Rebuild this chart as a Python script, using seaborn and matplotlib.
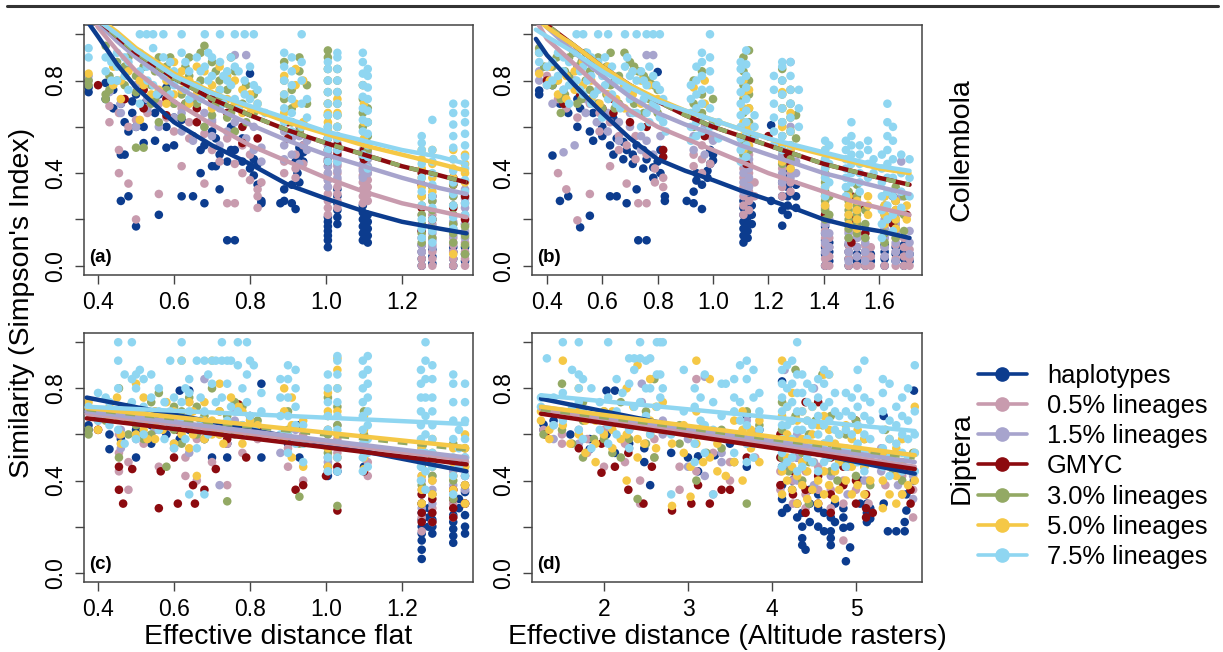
import matplotlib
matplotlib.use("Agg")
import matplotlib.pyplot as plt
from matplotlib.lines import Line2D
import seaborn as sns
import pandas as pd

# ---------------- series ----------------
SERIES = ["haplotypes", "0.5% lineages", "1.5% lineages", "GMYC",
          "3.0% lineages", "5.0% lineages", "7.5% lineages"]
COLORS = ["#0c3c8e", "#c89bae", "#a7a4cd", "#8c0a0f", "#93a964", "#f5c846", "#8fd6f1"]

# ---------------- panel (a): Collembola, flat distance ----------------
A_HAP = {0.375: [.75, .77], 0.42: [.79, .72], 0.44: [.76, .68], 0.46: [.28, .48, .70], 0.47: [.48, .62],
         0.48: [.30, .58], 0.49: [.71, .66], 0.50: [.17, .60, .74], 0.52: [.53, .60, .70], 0.55: [.54, .66],
         0.56: [.74, .22], 0.58: [.77, .51, .60], 0.60: [.52, .64], 0.62: [.30, .63], 0.65: [.30, .56],
         0.67: [.40, .50], 0.68: [.27, .52], 0.70: [.58, .43], 0.71: [.43, .55], 0.72: [.33, .48],
         0.74: [.11, .45], 0.75: [.60, .50], 0.76: [.11, .50], 0.78: [.55, .45], 0.80: [.83, .42],
         0.81: [.46, .39], 0.82: [.44, .35], 0.83: [.27, .28], 0.88: [.27], 0.89: [.33, .28],
         0.91: [.27, .35], 0.92: [.245, .45], 0.925: [.43, .40], 0.93: [.51, .47, .36], 0.94: [.49, .45, .52],
         1.005: [.08, .11, .13, .15, .17, .19, .21], 1.03: [.18, .21, .24, .27, .30, .33],
         1.097: [.11, .14, .17, .20, .23, .26], 1.11: [.10, .13, .16, .19, .22],
         1.252: [.0, .03, .06, .09], 1.28: [.01, .04, .07], 1.335: [.0, .03, .06, .08], 1.366: [.02, .05, .08]}
A_L05 = {0.43: [.69, .62], 0.455: [.40, .50, .66], 0.48: [.355, .60], 0.50: [.20, .63], 0.53: [.66, .72],
         0.56: [.31, .70], 0.58: [.72, .64], 0.60: [.58], 0.62: [.43, .68], 0.64: [.62, .55], 0.68: [.355, .57],
         0.70: [.50, .62], 0.72: [.45], 0.74: [.27, .55], 0.76: [.27, .44], 0.78: [.40, .52], 0.80: [.37, .48],
         0.82: [.33, .30, .25], 0.83: [.36], 0.89: [.45, .40], 0.92: [.42, .38, .48], 0.94: [.52, .44],
         1.005: [.22, .25, .28, .31, .34, .37, .40, .43, .46], 1.03: [.25, .28, .31, .34, .37, .40, .43, .46, .49],
         1.097: [.27, .30, .33, .36, .39, .42], 1.11: [.28, .31, .34, .37, .40],
         1.252: [.0, .03, .06, .09, .12, .15], 1.28: [.0, .03, .06, .09, .12, .18, .22],
         1.335: [.0, .03, .06, .09, .12, .15, .18], 1.366: [.0, .03, .06, .10, .14, .18, .22, .27]}
A_L15 = {0.375: [.80, .82], 0.43: [.75], 0.46: [.70, .66], 0.50: [.78, .60], 0.53: [.72, .68], 0.56: [.60, .75],
         0.60: [.70, .64], 0.62: [.58, .66], 0.65: [.72, .54], 0.68: [.60, .66], 0.70: [.63, .56], 0.72: [.68, .52],
         0.74: [.58], 0.76: [.91, .62], 0.79: [.91, .55], 0.81: [.60, .50], 0.83: [.51, .45],
         0.89: [.52, .58, .46], 0.91: [.55, .62, .48], 0.93: [.44, .56, .60], 0.95: [.50, .54],
         1.005: [.34, .37, .40, .43, .46, .49, .52], 1.03: [.38, .41, .44, .47, .50, .53, .56],
         1.097: [.38, .41, .44, .47, .50, .53], 1.11: [.40, .43, .46, .49],
         1.252: [.06, .09, .12, .15, .18, .22], 1.28: [.08, .11, .14, .17, .20, .24, .28],
         1.335: [.10, .13, .16, .19, .22, .26, .30], 1.366: [.12, .15, .18, .21, .25, .29, .33]}
A_GMYC = {0.40: [.78], 0.47: [.72], 0.52: [.68, .76], 0.58: [.65, .72], 0.63: [.70], 0.66: [.68, .62],
          0.70: [.72], 0.74: [.66], 0.78: [.60, .53], 0.82: [.55], 0.90: [.55, .62], 0.93: [.58],
          1.005: [.45, .50, .55], 1.03: [.48, .52], 1.10: [.46, .50], 1.252: [.15, .25, .35, .40],
          1.28: [.20, .30], 1.335: [.25, .35, .38], 1.366: [.20, .30]}
A_L30 = {0.375: [.78, .80], 0.42: [.95, .74, .72], 0.43: [.82, .76], 0.45: [.88, .80], 0.47: [.86, .78],
         0.48: [.90, .85], 0.50: [.51, .82, .75], 0.52: [.51, .86], 0.54: [.78, .70], 0.55: [.84, .72],
         0.56: [.62, .90, .84], 0.58: [.86, .76], 0.59: [.90, .80], 0.60: [.70, .80], 0.62: [.64, .74],
         0.63: [.86, .70], 0.64: [.90, .82], 0.66: [.78, .70], 0.67: [.92, .80], 0.68: [.95, .60],
         0.70: [.88, .65], 0.71: [.84, .70], 0.72: [.80, .72], 0.74: [.64, .76], 0.75: [.90, .66],
         0.76: [.84, .58], 0.78: [.70], 0.79: [.78, .62], 0.81: [.66, .74],
         0.89: [.72, .80, .88], 0.91: [.62, .68, .76], 0.93: [.84, .90, .58], 0.95: [.70, .78],
         1.005: [.55, .60, .65, .70, .75, .80, .85, .90, .93], 1.03: [.55, .60, .65, .70, .75, .80, .85],
         1.097: [.48, .54, .60, .66, .72, .78], 1.11: [.50, .56, .62, .68],
         1.252: [.10, .14, .18, .22, .26, .30], 1.28: [.12, .16, .20, .24, .28, .34],
         1.335: [.10, .14, .18, .22, .26, .30, .35], 1.366: [.05, .09, .13, .17]}
A_L50 = {0.375: [.83], 0.44: [.86, .78], 0.46: [.80, .72], 0.48: [.84], 0.51: [.63, .80], 0.52: [.90, .78],
         0.54: [.88, .74], 0.56: [.84, .76], 0.58: [.80, .70], 0.60: [.88, .74], 0.62: [.84, .76],
         0.64: [.80, .70], 0.66: [.74, .86], 0.68: [.84, .74], 0.70: [.78, .68], 0.72: [.76, .86],
         0.74: [.82, .72], 0.76: [.80, .70], 0.78: [.76, .66], 0.80: [.74, .66], 0.82: [.70],
         0.89: [.66, .74, .82], 0.92: [.70, .78, .85], 0.94: [.62, .80], 1.005: [.58, .62, .66, .70],
         1.03: [.60, .66, .72], 1.10: [.55, .62, .70], 1.252: [.30, .34, .38, .42, .46, .50],
         1.28: [.32, .38, .44, .50], 1.335: [.05, .38, .42, .46, .50], 1.366: [.36, .40, .44, .48]}
A_L75 = {0.375: [.94, .90], 0.42: [.84, .90], 0.435: [.88, .80], 0.45: [.92, .80, .86], 0.47: [.82, .90],
         0.48: [.88, .76], 0.51: [1.0, .92, .84, .70], 0.528: [1.0, .86], 0.53: [.80, .88],
         0.545: [1.0, .94, .78], 0.555: [.86, .74], 0.572: [1.0, .90, .82], 0.59: [.88, .74], 0.60: [.84, .78],
         0.62: [1.0, .92, .80], 0.63: [.88, .76], 0.64: [.84, .72], 0.66: [.90, .78], 0.67: [.84, .72],
         0.681: [1.0, .86, .74], 0.69: [.80, .92], 0.70: [.82, .90], 0.721: [1.0, .88, .76], 0.73: [.82, .70],
         0.74: [.84, .80], 0.75: [.78, .90], 0.76: [1.0, .86, .72], 0.77: [.84, .68], 0.786: [1.0, .80, .74],
         0.80: [.86, .72], 0.81: [1.0, .78], 0.82: [.76, .70], 0.84: [.66],
         0.89: [.62, .68, .74, .80, .86, .92], 0.91: [.58, .66, .72, .78, .84, .90],
         0.936: [1.0, .60, .70, .80, .88], 0.95: [.64, .72],
         1.005: [.45, .50, .55, .60, .65, .70, .75, .80, .85, .88],
         1.03: [.45, .50, .55, .60, .65, .70, .75, .80, .85, .90, .92],
         1.097: [.48, .53, .58, .63, .68, .73, .78, .83, .88, .92],
         1.11: [.42, .47, .52, .57, .62, .67, .72, .77, .82, .85],
         1.252: [.12, .16, .20, .26, .32, .38, .44, .50, .53, .56],
         1.28: [.10, .15, .20, .25, .30, .35, .40, .45, .50, .63],
         1.335: [.16, .21, .26, .31, .36, .41, .46, .51, .56, .61, .66, .70],
         1.366: [.22, .27, .32, .37, .42, .47, .52, .57, .62, .66, .70]}

A_FIT_X = [0.37, 0.40, 0.45, 0.50, 0.60, 0.70, 0.80, 0.90, 1.00, 1.10, 1.20, 1.30, 1.37]
A_FIT = {
    "haplotypes":    [1.06, 0.99, 0.87, 0.77, 0.62, 0.52, 0.44, 0.35, 0.29, 0.235, 0.19, 0.16, 0.14],
    "0.5% lineages": [1.12, 1.03, 0.93, 0.84, 0.71, 0.61, 0.52, 0.45, 0.38, 0.32, 0.27, 0.235, 0.21],
    "1.5% lineages": [1.15, 1.05, 0.97, 0.90, 0.78, 0.69, 0.61, 0.54, 0.48, 0.43, 0.38, 0.335, 0.31],
    "GMYC":          [1.17, 1.06, 0.99, 0.92, 0.81, 0.72, 0.65, 0.585, 0.53, 0.48, 0.43, 0.39, 0.36],
    "3.0% lineages": [1.17, 1.06, 0.99, 0.92, 0.81, 0.72, 0.65, 0.585, 0.53, 0.48, 0.43, 0.39, 0.36],
    "5.0% lineages": [1.18, 1.07, 1.01, 0.94, 0.83, 0.75, 0.68, 0.62, 0.57, 0.52, 0.48, 0.44, 0.41],
    "7.5% lineages": [1.16, 1.06, 1.00, 0.93, 0.82, 0.745, 0.69, 0.635, 0.58, 0.54, 0.50, 0.47, 0.44],
}

# ---------------- panel (b): Collembola, altitude distance ----------------
B_HAP = {0.372: [.757, .74], 0.42: [.476, .78], 0.447: [.28, .70], 0.477: [.30, .66], 0.51: [.60, .72],
         0.52: [.166, .68], 0.555: [.216, .58], 0.567: [.54, .66], 0.60: [.56, .60], 0.628: [.30, .52],
         0.64: [.636, .48], 0.652: [.30, .55], 0.676: [.535, .46], 0.688: [.27, .50], 0.71: [.48, .44],
         0.724: [.33, .52], 0.73: [.11], 0.748: [.50, .42], 0.76: [.11, .46], 0.784: [.425, .38],
         0.80: [.837, .45], 0.81: [.50, .40], 0.826: [.28, .30], 0.905: [.28], 0.93: [.27, .32],
         0.94: [.368, .40], 0.96: [.245, .35], 0.98: [.41, .38], 0.99: [.50, .44], 1.0: [.455, .48],
         1.11: [.10, .13, .16, .19, .22, .25, .28], 1.125: [.12, .15, .18, .21, .24, .27, .30],
         1.14: [.18, .22, .26], 1.21: [.607, .28], 1.25: [.173, .24, .30, .36],
         1.27: [.22, .26, .30, .34, .38, .42], 1.30: [.25, .30, .35],
         1.405: [.0, .05, .08, .11, .14, .17, .20], 1.42: [.02, .06, .10], 1.49: [.0, .03, .06, .09],
         1.52: [.02, .05, .08], 1.55: [.0, .03, .06], 1.57: [.02, .05], 1.62: [.0, .03, .06, .09],
         1.66: [.02, .05, .08], 1.69: [.0, .03, .06, .09], 1.71: [.02, .05]}
B_L05 = {0.40: [.82, .78], 0.44: [.40, .72], 0.47: [.33, .68], 0.51: [.196, .64], 0.555: [.31, .70],
         0.59: [.66, .58], 0.628: [.43, .62], 0.66: [.56, .50], 0.688: [.355, .52], 0.72: [.46, .56],
         0.73: [.27], 0.76: [.27, .48], 0.79: [.42, .36], 0.82: [.38, .34], 0.93: [.43, .48],
         0.96: [.52, .46, .40], 0.99: [.44, .56], 1.11: [.22, .26, .30, .34, .38, .42, .46],
         1.13: [.24, .28, .32, .36, .40, .44, .48], 1.15: [.30, .36], 1.25: [.30, .34, .38, .42, .46],
         1.28: [.32, .36, .40, .44, .48], 1.405: [.0, .03, .06, .09, .12, .15, .18, .22, .25],
         1.42: [.0, .04, .08, .12], 1.49: [.0, .03, .06, .09, .12, .15], 1.52: [.0, .04, .08, .12],
         1.55: [.0, .03, .06, .09, .12], 1.57: [.0, .04, .08], 1.62: [.0, .04, .08, .12, .16],
         1.66: [.0, .03, .06, .09, .12, .15, .18], 1.69: [.0, .04, .08, .12], 1.71: [.0, .03, .07]}
B_L15 = {0.372: [.80, .84], 0.42: [.70], 0.46: [.49, .76], 0.50: [.52, .80], 0.54: [.72, .66], 0.58: [.62, .70],
         0.62: [.66, .58], 0.66: [.62, .54], 0.70: [.60, .66], 0.74: [.56, .50], 0.76: [.91, .54],
         0.784: [.91, .48], 0.81: [.56], 0.93: [.50, .56], 0.97: [.48, .60], 1.0: [.54],
         1.11: [.32, .36, .40, .44, .48, .52], 1.13: [.34, .38, .42, .46, .50, .54],
         1.25: [.36, .40, .44, .48, .52], 1.28: [.38, .42, .46, .50, .60, .88], 1.30: [.40, .45],
         1.405: [.06, .10, .14, .18, .22, .26, .30], 1.42: [.08, .14, .20], 1.49: [.02, .06, .10, .14, .18, .22],
         1.52: [.04, .08, .12, .16, .20, .25], 1.55: [.02, .06, .10, .14], 1.62: [.04, .08, .12, .16, .20, .25],
         1.66: [.02, .06, .10, .14, .18, .22, .28], 1.68: [.45, .30], 1.71: [.05, .10, .15]}
B_GMYC = {0.40: [.80], 0.46: [.70], 0.52: [.74], 0.60: [.68], 0.64: [.66, .72], 0.70: [.62], 0.76: [.60],
          0.82: [.47, .50], 0.97: [.56], 1.12: [.44, .50], 1.20: [.56], 1.27: [.45, .48], 1.405: [.22],
          1.50: [.10, .20, .30], 1.55: [.14, .25], 1.65: [.18, .30], 1.70: [.22]}
B_L30 = {0.372: [.94, .92], 0.39: [.86], 0.42: [.86, .78], 0.435: [.90, .80], 0.45: [.72, .66],
         0.465: [.84, .74], 0.48: [.90, .82], 0.495: [.92, .78], 0.51: [.86, .70], 0.525: [.88, .72],
         0.54: [.92, .80], 0.555: [.84, .76], 0.57: [.88, .74], 0.585: [.90, .70], 0.60: [.84, .68],
         0.615: [.86, .74], 0.63: [.92, .78], 0.645: [.80, .68], 0.66: [.82, .70], 0.68: [.92, .78],
         0.70: [.88, .76], 0.715: [.86, .70], 0.73: [.84], 0.75: [.82, .66], 0.77: [.80, .72],
         0.785: [.78, .70], 0.80: [.76, .66], 0.93: [.60, .70, .80],
         0.96: [.66, .74, .84], 1.0: [.62, .72], 1.11: [.48, .54, .60, .66, .72, .78, .84, .90],
         1.13: [.50, .56, .62, .68, .74, .80, .93], 1.25: [.44, .50, .56, .62, .68, .74, .80, .85],
         1.28: [.46, .52, .58, .64, .70, .76], 1.30: [.55, .65], 1.405: [.20, .24, .28, .32, .36, .40],
         1.42: [.22, .30], 1.49: [.12, .16, .20, .24, .28, .32], 1.52: [.14, .18, .22, .26, .30, .35],
         1.55: [.12, .18, .24], 1.62: [.10, .14, .18, .22, .26, .30], 1.66: [.12, .16, .20, .24, .28, .34],
         1.69: [.15, .22, .30]}
B_L50 = {0.372: [.83], 0.41: [.86, .80], 0.44: [.80, .74], 0.47: [.82, .72], 0.50: [.84, .76],
         0.53: [.88, .78], 0.56: [.80, .72], 0.59: [.84, .70], 0.62: [.86, .74], 0.65: [.80, .72],
         0.68: [.78, .68], 0.71: [.84, .74], 0.74: [.80, .70], 0.77: [.78, .68], 0.80: [.72],
         0.93: [.77, .66], 0.97: [.80, .70], 1.11: [.50, .56, .62, .68, .74, .80],
         1.13: [.52, .60, .68, .76], 1.25: [.45, .52, .60, .68, .75], 1.28: [.42, .50, .58, .66],
         1.405: [.26, .30, .34, .38, .42, .46, .50], 1.49: [.18, .22, .26, .30], 1.52: [.16, .20, .24, .28],
         1.56: [.22, .26, .30], 1.62: [.18, .22, .26, .30], 1.66: [.16, .20, .24, .28], 1.70: [.20, .26]}
B_L75 = {0.372: [.92, .88], 0.40: [.86, .78], 0.42: [.88, .80], 0.44: [.92, .82], 0.46: [.84, .90, .76],
         0.48: [.88, .78, .70], 0.507: [1.0, .92, .80], 0.52: [.84, .76], 0.531: [1.0, .86, .74],
         0.545: [.92, .80], 0.56: [.90, .82, .70], 0.57: [.86, .74], 0.585: [1.0, .88, .76], 0.60: [.82, .64],
         0.61: [.90, .78], 0.621: [1.0, .84, .72], 0.635: [.86, .74], 0.65: [.80, .70], 0.665: [.80, .68],
         0.682: [1.0, .86, .76], 0.69: [.90, .76], 0.70: [.82, .72], 0.71: [.84, .66], 0.724: [1.0, .80, .66],
         0.74: [.84, .60], 0.75: [.80, .72], 0.760: [1.0, .78, .66], 0.77: [.86, .62], 0.784: [1.0, .82, .70],
         0.795: [.78, .68], 0.808: [1.0, .76, .64], 0.82: [.72, .62], 0.83: [.58],
         0.92: [.54, .60, .66, .72, .78], 0.94: [.56, .62, .68, .74, .80, .86],
         0.96: [.58, .64, .70, .76, .82, .88, .92], 0.989: [1.0, .60, .68, .76, .84, .90], 1.02: [.55, .62],
         1.10: [.45, .50, .55, .60, .65, .70, .75, .80, .85, .88],
         1.12: [.47, .52, .57, .62, .67, .72, .77, .82, .87, .93], 1.15: [.55, .60, .65],
         1.22: [.52, .58, .64, .70, .76, .82], 1.25: [.50, .56, .62, .68, .74, .80, .86, .88],
         1.28: [.52, .58, .64, .70, .76, .82, .88], 1.31: [.60, .68, .76],
         1.405: [.30, .34, .38, .42, .46, .50, .54], 1.42: [.36, .44, .52],
         1.48: [.30, .34, .38, .42, .46, .50, .54], 1.50: [.36, .40, .44, .48, .52, .56, .62],
         1.53: [.32, .36, .40, .44, .48, .52], 1.56: [.38, .44, .50, .54], 1.58: [.40, .46],
         1.61: [.12, .18, .24, .30, .36, .42, .48], 1.63: [.20, .26, .32, .38, .44, .50, .56, .62, .70],
         1.65: [.15, .22, .30, .38, .46, .54, .60], 1.68: [.25, .32, .40, .48], 1.71: [.30, .38, .46]}

B_FIT_X = [0.36, 0.40, 0.50, 0.60, 0.70, 0.80, 0.90, 1.00, 1.10, 1.20, 1.30, 1.40, 1.50, 1.60, 1.71]
B_FIT = {
    "haplotypes":    [0.98, 0.91, 0.78, 0.66, 0.55, 0.46, 0.41, 0.37, 0.325, 0.285, 0.245, 0.20, 0.17, 0.15, 0.12],
    "0.5% lineages": [1.06, 0.98, 0.87, 0.76, 0.67, 0.60, 0.55, 0.50, 0.45, 0.40, 0.36, 0.32, 0.28, 0.25, 0.22],
    "1.5% lineages": [1.08, 1.03, 0.92, 0.82, 0.73, 0.66, 0.61, 0.57, 0.52, 0.48, 0.44, 0.40, 0.37, 0.34, 0.31],
    "GMYC":          [1.08, 1.04, 0.95, 0.86, 0.78, 0.71, 0.65, 0.60, 0.56, 0.52, 0.48, 0.44, 0.41, 0.38, 0.35],
    "3.0% lineages": [1.08, 1.04, 0.95, 0.86, 0.78, 0.71, 0.65, 0.60, 0.56, 0.52, 0.48, 0.44, 0.41, 0.38, 0.35],
    "5.0% lineages": [1.07, 1.03, 0.95, 0.86, 0.78, 0.72, 0.67, 0.63, 0.59, 0.55, 0.51, 0.48, 0.45, 0.42, 0.40],
    "7.5% lineages": [1.02, 0.99, 0.92, 0.84, 0.77, 0.71, 0.67, 0.63, 0.59, 0.55, 0.52, 0.49, 0.46, 0.43, 0.41],
}

# ---------------- panel (c): Diptera, flat distance ----------------
C_HAP = {0.375: [.64, .62], 0.43: [.536, .60], 0.46: [.58], 0.50: [.50, .62], 0.54: [.64, .56], 0.58: [.60],
         0.615: [.79, .58], 0.64: [.79, .62], 0.68: [.58, .64], 0.70: [.50], 0.74: [.50, .56], 0.78: [.62],
         0.80: [.68], 0.83: [.82, .50], 0.90: [.56], 0.93: [.64, .50], 1.005: [.42, .46], 1.03: [.44],
         1.10: [.46], 1.252: [.06, .10, .14, .17, .20, .23, .26], 1.27: [.20, .24, .28], 1.28: [.17, .20, .23],
         1.335: [.13, .16, .19, .22, .25], 1.35: [.28, .32], 1.366: [.17, .20, .25, .30, .35]}
C_L05 = {0.40: [.66, .62], 0.455: [.44, .52, .60], 0.48: [.36, .48], 0.52: [.56, .68], 0.56: [.46, .62],
         0.60: [.54, .66], 0.63: [.42, .50], 0.66: [.58, .40], 0.70: [.48, .62], 0.74: [.38, .56],
         0.78: [.52, .64], 0.82: [.58], 0.90: [.46, .54], 0.94: [.40, .60], 1.005: [.44, .50, .56, .62],
         1.03: [.46, .52, .58], 1.11: [.42, .48, .54], 1.252: [.18, .24, .30, .36, .42],
         1.28: [.22, .28, .34, .40], 1.335: [.24, .30, .36, .42], 1.366: [.30, .36, .42, .48]}
C_L15 = {0.40: [.68], 0.46: [.54, .62], 0.50: [.58, .66], 0.55: [.62, .70], 0.60: [.68, .56], 0.64: [.52, .74],
         0.68: [.66, .84], 0.72: [.38, .60], 0.76: [.66, .70], 0.81: [.64], 0.88: [.52], 0.92: [.58, .62],
         1.005: [.48, .54, .60], 1.03: [.50, .56, .64], 1.10: [.50, .56], 1.252: [.28, .34, .40, .46],
         1.28: [.30, .36, .42], 1.335: [.32, .38, .44], 1.366: [.36, .42, .50]}
C_GMYC = {0.40: [.62], 0.455: [.36, .46], 0.466: [.30], 0.49: [.45], 0.52: [.60], 0.56: [.28], 0.565: [.44],
          0.60: [.50], 0.61: [.30, .62], 0.65: [.38], 0.655: [.30], 0.68: [.36], 0.71: [.45], 0.74: [.58],
          0.77: [.73], 0.79: [.50], 0.82: [.62], 0.92: [.36], 0.94: [.38], 1.00: [.42], 1.03: [.27, .46],
          1.10: [.44], 1.252: [.22, .26, .30, .34], 1.28: [.22, .26, .32], 1.335: [.24, .28, .32, .36],
          1.366: [.30, .38]}
C_L30 = {0.375: [.62, .60], 0.42: [.66], 0.455: [.80, .50], 0.48: [.72, .60], 0.50: [.70, .64], 0.52: [.66, .58],
         0.54: [.60, .74], 0.56: [.68, .78], 0.58: [.66, .46], 0.60: [.62, .72], 0.62: [.70, .56],
         0.64: [.64, .76], 0.66: [.72, .60], 0.68: [.58, .68], 0.70: [.80, .64], 0.72: [.70, .62],
         0.74: [.31, .68], 0.76: [.60, .74], 0.78: [.72, .62], 0.82: [.66],
         0.90: [.62, .70], 0.93: [.33, .56], 1.005: [.52, .60, .68, .76], 1.03: [.29, .56, .64, .72],
         1.10: [.52, .60, .70], 1.252: [.30, .38, .46, .54], 1.28: [.34, .42, .50],
         1.335: [.32, .40, .48, .56], 1.366: [.38, .46, .54]}
C_L50 = {0.375: [.74, .70], 0.40: [.70, .62], 0.43: [.66, .72], 0.45: [.76, .68], 0.46: [.60, .56],
         0.48: [.66, .70], 0.50: [.82, .68, .60], 0.52: [.76, .62, .70], 0.53: [.58, .66], 0.55: [.70, .58, .64],
         0.57: [.62, .68], 0.58: [.66, .74], 0.60: [.70, .56], 0.62: [.92, .60, .66], 0.64: [.68, .54, .74],
         0.65: [.60, .70], 0.66: [.42, .62], 0.68: [.74, .58, .66], 0.70: [.92, .66, .60], 0.72: [.82, .60, .70],
         0.73: [.64, .56], 0.75: [.76, .64], 0.77: [.72, .60], 0.78: [.70, .56], 0.80: [.60, .66], 0.82: [.64],
         0.89: [.80, .58, .70], 0.91: [.50, .64, .76], 0.94: [.46, .56, .66], 1.005: [.46, .54, .62, .70, .78],
         1.03: [.50, .60, .70, .80, .88, .93], 1.10: [.45, .50, .56, .62, .68], 1.252: [.30, .36, .42, .48, .54],
         1.28: [.34, .40, .46, .52, .58], 1.335: [.36, .42, .48, .54], 1.366: [.30, .38, .46, .54, .60]}
C_L75 = {0.375: [.72, .70], 0.40: [.78, .66], 0.42: [.76, .70], 0.43: [.74, .64], 0.453: [1.0, .92, .62, .80],
         0.47: [.86, .70, .56], 0.489: [1.0, .74, .84], 0.50: [.86, .80, .58], 0.51: [.88, .66],
         0.52: [.84, .72, .60], 0.54: [.86, .66, .76], 0.56: [.80, .62, .70], 0.575: [.74, .58],
         0.59: [.92, .70, .64], 0.60: [.76, .54], 0.62: [1.0, .92, .74, .66], 0.63: [.80, .58],
         0.64: [.84, .78, .34, .70], 0.66: [.92, .62, .54], 0.67: [.76, .66], 0.68: [.92, .70, .34],
         0.69: [.86, .60], 0.70: [.92, .82, .64], 0.71: [.92, .74], 0.726: [1.0, .92, .76], 0.74: [.92, .66, .82],
         0.75: [.92, .72], 0.768: [1.0, .90, .70], 0.78: [.80, .64], 0.792: [1.0, .86, .74], 0.80: [.92, .68],
         0.81: [.90, .62], 0.83: [.70, .78],
         0.88: [.60, .68, .76, .84], 0.90: [.52, .60, .68, .76, .84, .90], 0.92: [.56, .64, .72, .80, .88],
         0.94: [.48, .56, .64], 1.005: [.44, .50, .56, .62, .68, .74, .80, .86],
         1.03: [.44, .50, .56, .62, .68, .74, .80, .86, .92, .94],
         1.097: [.44, .50, .56, .62, .68, .74, .80, .86, .92],
         1.11: [.46, .52, .58, .64, .70, .76, .82, .88, .94],
         1.25: [.40, .46, .52, .58, .64, .70, .76, .82, .88],
         1.262: [.36, .44, .52, .60, .68, .76, .84, .92, 1.0],
         1.28: [.46, .52, .58, .64, .70, .76, .84, .90],
         1.335: [.34, .42, .50, .58, .66, .74, .82, .86], 1.35: [.46, .54, .62],
         1.366: [.42, .50, .58, .66, .74, .82]}

C_FIT_X = [0.37, 1.37]
C_FIT = {
    "haplotypes":    [0.76, 0.44],
    "0.5% lineages": [0.69, 0.49],
    "1.5% lineages": [0.70, 0.50],
    "GMYC":          [0.67, 0.47],
    "3.0% lineages": [0.71, 0.535],
    "5.0% lineages": [0.715, 0.545],
    "7.5% lineages": [0.72, 0.645],
}

# ---------------- panel (d): Diptera, altitude distance ----------------
D_HAP = {1.28: [.643, .62], 1.40: [.66], 1.60: [.60], 1.83: [.536, .58], 2.03: [.79, .60], 2.13: [.79, .52],
         2.30: [.56], 2.48: [.54, .48], 2.55: [.38], 2.80: [.52], 3.00: [.50], 3.12: [.505, .44],
         3.32: [.51, .60], 3.50: [.56], 3.70: [.68, .46], 3.85: [.62], 4.12: [.32, .26, .83, .46, .38],
         4.18: [.28], 4.24: [.40, .36], 4.30: [.30, .24, .50], 4.36: [.15, .20, .26, .12], 4.40: [.10],
         4.45: [.22, .30, .36], 4.55: [.28, .34, .20], 4.62: [.26, .18], 4.70: [.15, .18, .24, .12],
         4.75: [.22, .30], 4.85: [.195, .24, .28], 4.88: [.05], 4.93: [.11, .20], 5.05: [.30, .40],
         5.13: [.22, .26, .30], 5.17: [.235, .28], 5.33: [.68, .30], 5.38: [.18], 5.48: [.18],
         5.58: [.18, .22], 5.60: [.27, .34], 5.69: [.79, .40]}
D_L05 = {1.28: [.62], 1.50: [.56, .60], 1.80: [.52, .58], 2.00: [.46, .62], 2.25: [.48, .56], 2.43: [.30, .40],
         2.60: [.50, .58], 2.90: [.46, .36], 3.10: [.84, .44], 3.30: [.34, .52], 3.50: [.40, .48],
         3.80: [.50, .60], 4.10: [.36, .44, .56], 4.25: [.30, .40, .50], 4.40: [.28, .34, .44],
         4.55: [.36, .46], 4.70: [.28, .36, .44], 4.85: [.14, .30, .40], 5.00: [.36, .48], 5.15: [.30, .40],
         5.35: [.38, .50], 5.55: [.34, .42], 5.68: [.24, .36]}
D_L15 = {1.40: [.58, .64], 1.70: [.56, .62], 2.00: [.60, .66], 2.30: [.62, .54], 2.45: [.82, .74],
         2.70: [.60, .66], 3.00: [.46, .58], 3.20: [.85, .42], 3.40: [.52, .48], 3.70: [.56, .66],
         4.15: [.88, .46, .56], 4.30: [.40, .50, .60], 4.50: [.38, .48, .80], 4.70: [.42, .52],
         4.90: [.34, .46], 5.10: [.40, .52], 5.30: [.44, .54], 5.50: [.46, .38], 5.68: [.32, .42]}
D_GMYC = {1.30: [.60], 1.70: [.54], 1.97: [.434, .56], 2.13: [.46], 2.29: [.36, .52], 2.47: [.30], 2.57: [.46],
          2.81: [.27], 3.04: [.30], 3.12: [.38], 3.26: [.30], 3.40: [.36], 3.50: [.36], 3.70: [.50],
          4.10: [.38, .50, .60], 4.25: [.34, .44], 4.40: [.26, .36, .74], 4.55: [.30, .42, .74],
          4.70: [.26, .34, .50], 4.85: [.38, .46], 5.00: [.30, .40, .66], 5.12: [.24, .28, .34],
          5.20: [.26], 5.45: [.44], 5.65: [.30, .36]}
D_L30 = {1.28: [.60], 1.50: [.82, .62], 1.62: [.56], 1.75: [.66, .50, .74], 1.88: [.58], 2.00: [.58, .70],
         2.10: [.52], 2.20: [.50, .74], 2.30: [.64, .58], 2.40: [.66, .32], 2.50: [.70, .56], 2.60: [.50, .84],
         2.70: [.62], 2.90: [.64, .56], 3.10: [.60, .40], 3.22: [.52], 3.40: [.62, .54], 3.55: [.48, .58],
         3.70: [.30, .70], 3.85: [.64], 4.12: [.50, .62, .74], 4.20: [.44, .58], 4.28: [.56, .68, .88],
         4.36: [.40, .52], 4.44: [.48, .60, .30], 4.52: [.54, .66], 4.60: [.52, .64, .86], 4.70: [.44, .56, .68],
         4.78: [.40, .50], 4.88: [.48, .60], 5.00: [.54, .66, .42], 5.10: [.46, .58], 5.17: [.38],
         5.35: [.50, .62], 5.45: [.44], 5.55: [.48, .40], 5.68: [.52, .44]}
D_L50 = {1.25: [.70, .66], 1.35: [.62, .58], 1.51: [.92, .64], 1.60: [.70, .56], 1.70: [.72, .60, .80],
         1.78: [.66, .52], 1.90: [.66, .56, .48], 2.00: [.70, .60], 2.10: [.62, .70, .54], 2.20: [.66, .58],
         2.27: [.40, .80, .60], 2.35: [.72, .64], 2.40: [.90, .58, .50], 2.48: [.66, .56], 2.55: [.84, .66, .60],
         2.62: [.72, .54], 2.70: [.62, .74], 2.81: [.29, .56], 2.95: [.64, .52], 3.03: [.33, .46, .60],
         3.10: [.92, .56, .70], 3.18: [.64, .48], 3.26: [.84, .50, .60], 3.35: [.56, .44], 3.45: [.42, .60],
         3.55: [.58, .66, .48], 3.65: [.62, .70, .40], 3.75: [.54, .62], 3.85: [.48, .66],
         4.12: [.34, .44, .56, .68, .92], 4.18: [.40, .50, .60, .72], 4.24: [.36, .46, .56, .66, .78],
         4.30: [.30, .42, .54, .66], 4.36: [.38, .48, .58, .70], 4.42: [.32, .44, .56, .66],
         4.48: [.36, .48, .60, .72], 4.55: [.30, .40, .52, .64], 4.62: [.34, .44, .56, .68, .86],
         4.68: [.38, .50, .62, .86], 4.75: [.32, .44, .56], 4.80: [.36, .48, .60], 4.88: [.40, .52, .64],
         4.95: [.34, .46, .58], 5.02: [.38, .50, .62], 5.10: [.34, .46, .58], 5.17: [.40, .52],
         5.32: [.28, .40, .52], 5.40: [.34, .46, .58], 5.48: [.30, .42, .54], 5.55: [.34, .46, .58],
         5.62: [.38, .50], 5.70: [.40, .52, .72]}
D_L75 = {1.25: [.76, .72], 1.32: [.93, .70], 1.40: [.76, .64], 1.51: [1.0, .78, .66], 1.62: [.88, .72],
         1.70: [1.0, .86, .80, .74, .68, .62], 1.75: [.84, .70, .58], 1.85: [.80, .68, .54], 1.95: [.74, .62],
         2.05: [1.0, .76, .64, .56], 2.15: [.84, .70, .60], 2.22: [.78, .66], 2.30: [.93, .82, .62, .54],
         2.36: [.93, .88, .72], 2.43: [1.0, .93, .74, .66], 2.50: [.92, .80, .68], 2.55: [.93, .80, .60],
         2.63: [1.0, .86, .72], 2.67: [1.0, .86, .76], 2.70: [1.0, .64, .80], 2.80: [.34, .60],
         2.95: [.88, .70], 3.08: [.72, .80, .56, .48], 3.15: [.76, .66, .60], 3.20: [.86, .64, .52],
         3.30: [.74, .62, .34], 3.40: [.82, .68], 3.45: [.82, .58], 3.55: [.70, .76, .52, .60, .84],
         3.62: [.66, .74, .90], 3.70: [.92, .84, .64, .56, .48], 3.78: [.88, .76, .56, .50], 3.85: [.78, .70, .62],
         4.12: [.46, .52, .58, .64, .70, .76, .82, .88], 4.18: [.48, .56, .64, .72, .80, .90],
         4.24: [.50, .58, .66, .74, .82, .92], 4.30: [1.0, .44, .54, .62, .70, .78, .86],
         4.36: [.46, .54, .62, .70, .78, .86], 4.42: [.50, .58, .66, .74, .82], 4.48: [.48, .56, .64, .72, .80],
         4.55: [.44, .52, .60, .68, .76, .84], 4.62: [.48, .56, .64, .72, .82, .88],
         4.68: [.50, .58, .66, .74, .86], 4.75: [.46, .54, .62, .70, .78], 4.80: [.52, .60, .68],
         4.88: [.46, .54, .62, .70, .78], 4.95: [.52, .60, .68, .76], 5.02: [.48, .56, .64, .72, .80, .88],
         5.10: [.44, .52, .60, .68, .76, .92], 5.17: [.50, .58, .66, .74],
         5.32: [.46, .54, .62, .70, .78, .84], 5.40: [.42, .50, .58, .66, .82], 5.48: [.48, .56, .64, .72],
         5.55: [.44, .52, .60, .68, .76], 5.62: [.50, .58, .66, .80], 5.70: [.44, .52, .60, .70, .90]}

D_FIT_X = [1.25, 5.70]
D_FIT = {
    "haplotypes":    [0.755, 0.43],
    "0.5% lineages": [0.71, 0.46],
    "1.5% lineages": [0.72, 0.48],
    "GMYC":          [0.69, 0.45],
    "3.0% lineages": [0.71, 0.50],
    "5.0% lineages": [0.72, 0.51],
    "7.5% lineages": [0.77, 0.615],
}

PANELS = [
    dict(label="(a)", pts=[A_HAP, A_L05, A_L15, A_GMYC, A_L30, A_L50, A_L75], fx=A_FIT_X, fit=A_FIT,
         xlim=(0.363, 1.387), xticks=[0.4, 0.6, 0.8, 1.0, 1.2], xlabels=["0.4", "0.6", "0.8", "1.0", "1.2"],
         pos=[84, 25, 473, 275]),
    dict(label="(b)", pts=[B_HAP, B_L05, B_L15, B_GMYC, B_L30, B_L50, B_L75], fx=B_FIT_X, fit=B_FIT,
         xlim=(0.346, 1.755), xticks=[0.4, 0.6, 0.8, 1.0, 1.2, 1.4, 1.6],
         xlabels=["0.4", "0.6", "0.8", "1.0", "1.2", "1.4", "1.6"], pos=[532, 25, 922, 275]),
    dict(label="(c)", pts=[C_HAP, C_L05, C_L15, C_GMYC, C_L30, C_L50, C_L75], fx=C_FIT_X, fit=C_FIT,
         xlim=(0.363, 1.387), xticks=[0.4, 0.6, 0.8, 1.0, 1.2], xlabels=["0.4", "0.6", "0.8", "1.0", "1.2"],
         pos=[84, 333, 473, 582], xtitle="Effective distance flat"),
    dict(label="(d)", pts=[D_HAP, D_L05, D_L15, D_GMYC, D_L30, D_L50, D_L75], fx=D_FIT_X, fit=D_FIT,
         xlim=(1.143, 5.786), xticks=[2, 3, 4, 5], xlabels=["2", "3", "4", "5"],
         pos=[532, 333, 922, 582], xtitle="Effective distance (Altitude rasters)"),
]
YTICKS = [0.0, 0.2, 0.4, 0.6, 0.8, 1.0]
YLABELS = ["0.0", "", "0.4", "", "0.8", ""]

# ---------------- drawing ----------------
sns.set_style("white")
plt.rcParams["font.family"] = ["Liberation Sans", "DejaVu Sans"]
plt.rcParams["text.color"] = "black"
plt.rcParams["axes.labelcolor"] = "black"
plt.rcParams["xtick.color"] = "black"
plt.rcParams["ytick.color"] = "black"

W, H = 1223, 652
fig = plt.figure(figsize=(W / 100, H / 100), dpi=100)

TICK_FS = 16.5
TITLE_FS = 20.5
FRAME = "#444444"


def to_df(d):
    rows = [(x, y) for x, ys in d.items() for y in ys]
    return pd.DataFrame(rows, columns=["x", "y"])


for p in PANELS:
    l, t, r, b = p["pos"]
    ax = fig.add_axes([l / W, 1 - b / H, (r - l) / W, (b - t) / H])
    for d, col in zip(p["pts"], COLORS):
        sns.scatterplot(data=to_df(d), x="x", y="y", color=col, s=38, linewidth=0,
                        edgecolor="none", ax=ax, legend=False, zorder=2)
    for name, col in zip(SERIES, COLORS):
        ls = (0, (2.2, 2.2)) if name == "3.0% lineages" else "-"
        sns.lineplot(x=p["fx"], y=p["fit"][name], color=col, lw=3.2, ax=ax, estimator=None,
                     sort=False, legend=False, linestyle=ls, zorder=3)
    ax.set_xlim(*p["xlim"])
    ax.set_ylim(-0.04, 1.04)
    ax.set_xticks(p["xticks"])
    ax.set_xticklabels(p["xlabels"], fontsize=TICK_FS)
    ax.set_yticks(YTICKS)
    ax.set_yticklabels(YLABELS, fontsize=TICK_FS, rotation=90, va="center")
    ax.tick_params(axis="both", direction="out", length=6.5, width=1.0, color=FRAME,
                   labelcolor="black", left=True, bottom=True, pad=5)
    ax.tick_params(axis="y", pad=6)
    for s in ax.spines.values():
        s.set_visible(True)
        s.set_color(FRAME)
        s.set_linewidth(1.1)
    ax.set_xlabel(p.get("xtitle", ""), fontsize=TITLE_FS, color="black")
    ax.xaxis.label.set_va("center")
    ax.xaxis.set_label_coords(0.5, -(637 - b) / (b - t))
    ax.set_ylabel("")
    ax.text(0.012, 0.035, p["label"], transform=ax.transAxes, fontsize=13.5, fontweight="bold",
            ha="left", va="bottom", zorder=5, color="black")

# overall y label and row labels
fig.text(22 / W, 1 - 303 / H, "Similarity (Simpson's Index)", rotation=90, ha="center", va="center",
         fontsize=TITLE_FS, color="black")
fig.text(962 / W, 1 - 150 / H, "Collembola", rotation=90, ha="center", va="center", fontsize=TITLE_FS,
         color="black")
fig.text(962 / W, 1 - 458 / H, "Diptera", rotation=90, ha="center", va="center", fontsize=TITLE_FS,
         color="black")

# top rule
fig.add_artist(Line2D([7 / W, 1218 / W], [1 - 5.5 / H, 1 - 5.5 / H], color="#333333", lw=2.2))

# legend
handles = [Line2D([], [], color=c, marker="o", markersize=9.5, lw=2.6) for c in COLORS]
leg = fig.legend(handles, SERIES, loc="upper left", bbox_to_anchor=(978 / W, 1 - 364 / H), frameon=False,
                 fontsize=18.4, handlelength=1.9, handletextpad=0.8, labelspacing=0.24, borderpad=0,
                 borderaxespad=0)
for txt in leg.get_texts():
    txt.set_color("black")

fig.savefig("out.png", dpi=100)
